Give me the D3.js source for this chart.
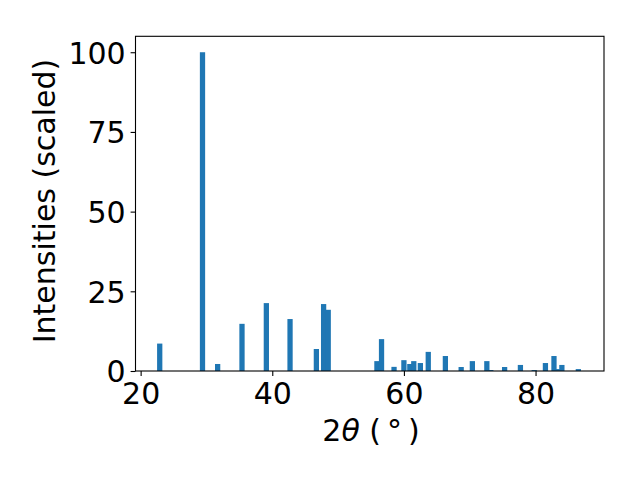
<!DOCTYPE html>
<html><head><meta charset="utf-8">
<script src="https://cdn.jsdelivr.net/npm/d3@7"></script>
<style>body{margin:0;background:#fff}svg{display:block}</style>
</head><body>
<script>
const twoTheta = [22.9, 29.4, 31.7, 35.4, 39.1, 42.7, 46.7, 47.8, 48.5, 55.9, 56.6, 58.5, 60.0, 60.9, 61.5, 62.5, 63.7, 66.3, 68.7, 70.4, 72.6, 73.2, 75.3, 77.7, 79.8, 81.5, 82.8, 83.3, 84.0, 86.5];
const intensity = [8.6, 100, 2.2, 14.8, 21.3, 16.3, 6.9, 21.0, 19.2, 3.1, 10.0, 1.3, 3.4, 2.2, 3.1, 2.5, 6.0, 4.7, 1.25, 3.1, 3.1, 0.3, 1.25, 1.9, 0.3, 2.5, 4.7, 0.6, 1.9, 0.6];
const xTicks = [20, 40, 60, 80];
const yTicks = [0, 25, 50, 75, 100];
const barWidth = 0.8;

const W = 640, H = 480;
const m = {left: 135.5, right: 604, top: 36.3, bottom: 371};
const svg = d3.select("body").append("svg").attr("width", W).attr("height", H);
const x = d3.scaleLinear().domain([19.22, 90.4]).range([m.left, m.right]);
const y = d3.scaleLinear().domain([0, 105]).range([m.bottom, m.top]);

svg.append("g").selectAll("rect").data(twoTheta).join("rect")
  .attr("x", (d) => x(d - barWidth / 2))
  .attr("width", (d) => x(d + barWidth / 2) - x(d - barWidth / 2))
  .attr("y", (d, i) => y(intensity[i]))
  .attr("height", (d, i) => y(0) - y(intensity[i]))
  .attr("fill", "#1f77b4");

const font = "DejaVu Sans, sans-serif";
const fs = 30;
const xa = svg.append("g").attr("transform", `translate(0,${m.bottom})`)
  .call(d3.axisBottom(x).tickValues(xTicks).tickSize(4.9).tickPadding(4.9).tickFormat(d3.format("d")));
const ya = svg.append("g").attr("transform", `translate(${m.left},0)`)
  .call(d3.axisLeft(y).tickValues(yTicks).tickSize(4.9).tickPadding(4.9).tickFormat(d3.format("d")));
[xa, ya].forEach(g => {
  g.select(".domain").remove();
  g.selectAll("line").attr("stroke", "#000").attr("stroke-width", 1.1);
  g.selectAll("text").attr("font-family", font).attr("font-size", fs).attr("fill", "#000");
});
xa.selectAll("text").attr("dy", "0.76em");
ya.selectAll("text").attr("dy", "0.36em");

svg.append("rect").attr("x", m.left).attr("y", m.top)
  .attr("width", m.right - m.left).attr("height", m.bottom - m.top)
  .attr("fill", "none").attr("stroke", "#000").attr("stroke-width", 1.1);

const xl = svg.append("text").attr("x", 371).attr("y", 441)
  .attr("text-anchor", "middle").attr("font-family", font).attr("font-size", fs);
xl.append("tspan").text("2");
xl.append("tspan").attr("font-style", "italic").text("θ");
xl.append("tspan").text(" (\u2009°\u2009)");

svg.append("text").attr("transform", `translate(55,201) rotate(-90)`)
  .attr("text-anchor", "middle").attr("font-family", font).attr("font-size", fs)
  .text("Intensities (scaled)");
</script>
</body></html>
